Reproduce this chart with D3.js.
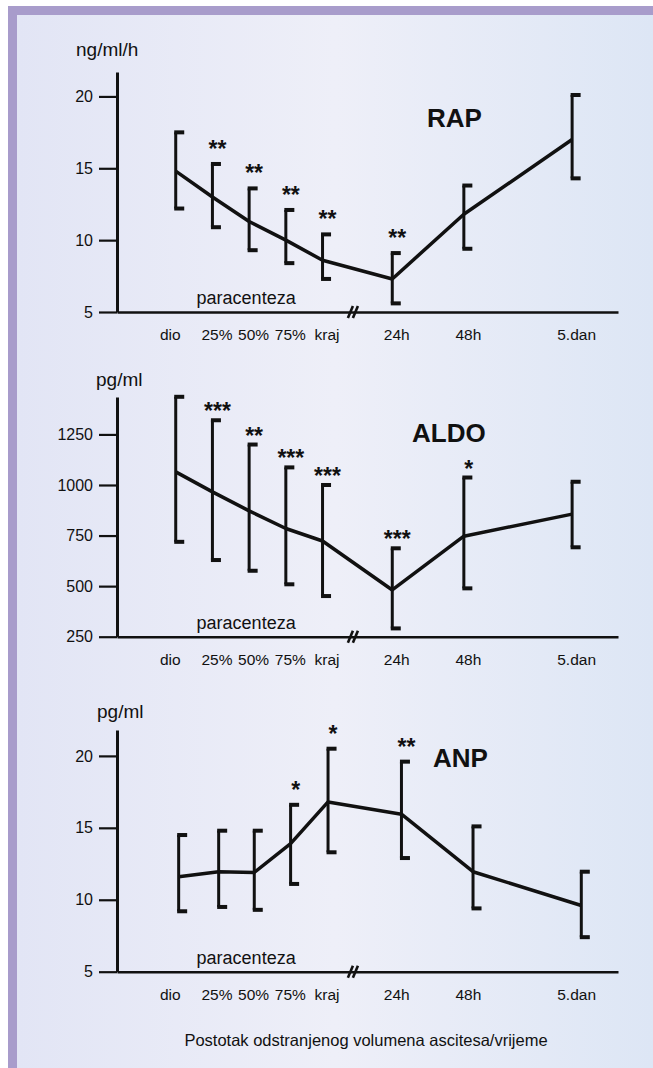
<!DOCTYPE html>
<html>
<head>
<meta charset="utf-8">
<script src="https://cdn.jsdelivr.net/npm/d3@7"></script>
<style>
  html, body { margin: 0; padding: 0; background: #fff; overflow: hidden; }
  svg { display: block; }
  svg text { font-family: "Liberation Sans", Arial, Helvetica, sans-serif; fill: #111; }
</style>
</head>
<body>
<script>
// categories along the (broken) x axis
const categories = ["dio", "25%", "50%", "75%", "kraj", "24h", "48h", "5.dan"];
const xSlots = [0, 1, 2, 3, 4, 5.9, 7.85, 10.8];
const anpSlots = [0.08, 1.17, 2.14, 3.13, 4.15, 6.15, 8.1, 11.05];
const breakSlot = 4.8;

// RAP (ng/ml/h)
const rapTicks = [5, 10, 15, 20];
const rapMean = [14.8, 13.0, 11.3, 10.0, 8.6, 7.3, 11.8, 17.0];
const rapUpper = [17.5, 15.3, 13.6, 12.1, 10.4, 9.1, 13.8, 20.1];
const rapLower = [12.2, 10.9, 9.3, 8.4, 7.3, 5.6, 9.4, 14.3];
const rapStars = ["", "**", "**", "**", "**", "**", "", ""];

// ALDO (pg/ml)
const aldoTicks = [250, 500, 750, 1000, 1250];
const aldoMean = [1065, 966, 872, 785, 723, 481, 747, 856];
const aldoUpper = [1436, 1320, 1200, 1087, 1000, 687, 1037, 1016];
const aldoLower = [719, 629, 576, 509, 451, 291, 489, 692];
const aldoStars = ["", "***", "**", "***", "***", "***", "*", ""];

// ANP (pg/ml)
const anpTicks = [5, 10, 15, 20];
const anpMean = [11.6, 11.95, 11.9, 13.9, 16.8, 15.95, 11.95, 9.6];
const anpUpper = [14.5, 14.8, 14.8, 16.6, 20.5, 19.6, 15.1, 11.95];
const anpLower = [9.2, 9.5, 9.3, 11.1, 13.3, 12.9, 9.4, 7.4];
const anpStars = ["", "", "", "*", "*", "**", "", ""];

const width = 653, height = 1068;

const svg = d3.select("body").append("svg")
    .attr("width", width)
    .attr("height", height);

// background + purple frame
const grad = svg.append("defs").append("linearGradient")
    .attr("id", "bg").attr("gradientUnits", "userSpaceOnUse")
    .attr("x1", 17).attr("x2", width).attr("y1", 0).attr("y2", 0);
grad.append("stop").attr("offset", "0").attr("stop-color", "#e2e5f5");
grad.append("stop").attr("offset", "0.5").attr("stop-color", "#eeeff8");
grad.append("stop").attr("offset", "1").attr("stop-color", "#dde6f5");

svg.append("rect").attr("x", 8).attr("y", 6).attr("width", width).attr("height", height)
    .attr("fill", "#a89ccb");
svg.append("rect").attr("x", 17).attr("y", 15).attr("width", width).attr("height", height)
    .attr("fill", "url(#bg)");

const xScale = d3.scaleLinear().domain([-1.6, 12.05]).range([117, 618]);

const panels = [
    {name: "RAP", unit: "ng/ml/h", unitX: 76, unitY: 56, ticks: rapTicks,
     domain: [5, 21.7], range: [312, 72], slots: xSlots,
     mean: rapMean, upper: rapUpper, lower: rapLower, stars: rapStars, starOff: 19,
     titleX: 427, titleY: 127},
    {name: "ALDO", unit: "pg/ml", unitX: 96, unitY: 386, ticks: aldoTicks,
     domain: [250, 1435], range: [636.7, 397], slots: xSlots,
     mean: aldoMean, upper: aldoUpper, lower: aldoLower, stars: aldoStars, starOff: 13,
     titleX: 412, titleY: 442},
    {name: "ANP", unit: "pg/ml", unitX: 97, unitY: 718, ticks: anpTicks,
     domain: [5, 21.8], range: [971.7, 730], slots: anpSlots,
     mean: anpMean, upper: anpUpper, lower: anpLower, stars: anpStars, starOff: 19,
     titleX: 433, titleY: 767}
];

panels.forEach(p => {
    const yScale = d3.scaleLinear().domain(p.domain).range(p.range);
    const g = svg.append("g");
    const x0 = xScale.range()[0];
    const yBase = p.range[0];

    // y axis
    const yAxis = d3.axisLeft(yScale).tickValues(p.ticks).tickFormat(d3.format("d"))
        .tickSize(18).tickSizeOuter(0).tickPadding(6);
    g.append("g")
        .attr("transform", `translate(${x0},0)`)
        .call(yAxis)
        .call(a => a.select(".domain").attr("stroke", "#111").attr("stroke-width", 3))
        .call(a => a.selectAll(".tick line").attr("stroke", "#111").attr("stroke-width", 2.2))
        .call(a => a.selectAll(".tick text")
            .style("font-size", "16px").style("font-family", null).attr("fill", "#111"));

    // x axis with category labels
    const xAxis = d3.axisBottom(xScale).tickValues(xSlots)
        .tickFormat((d, i) => categories[i]).tickSize(0).tickSizeOuter(0).tickPadding(17);
    g.append("g")
        .attr("transform", `translate(0,${yBase})`)
        .call(xAxis)
        .call(a => a.select(".domain").attr("stroke", "#111").attr("stroke-width", 2.5))
        .call(a => a.selectAll(".tick text")
            .attr("dx", (d, i) => i === 0 ? -6 : 4)
            .style("font-size", "15.5px").style("font-family", null).attr("fill", "#111"));

    // axis break mark
    const bx = xScale(breakSlot);
    [0, 5].forEach(o => {
        g.append("line")
            .attr("x1", bx - 4 + o).attr("y1", yBase + 6)
            .attr("x2", bx + 1 + o).attr("y2", yBase - 6)
            .attr("stroke", "#111").attr("stroke-width", 2.6);
    });

    // paracenteza label
    g.append("text")
        .attr("x", xScale(2) - 3).attr("y", yBase - 8)
        .attr("text-anchor", "middle")
        .style("font-size", "18px")
        .text("paracenteza");

    // unit label
    g.append("text")
        .attr("x", p.unitX).attr("y", p.unitY)
        .style("font-size", "19px")
        .text(p.unit);

    // title
    g.append("text")
        .attr("x", p.titleX).attr("y", p.titleY)
        .style("font-size", "26px").style("font-weight", "bold")
        .text(p.name);

    // error bars "["
    const bars = g.append("g");
    p.mean.forEach((m, i) => {
        const x = xScale(p.slots[i]);
        bars.append("line")
            .attr("x1", x).attr("x2", x)
            .attr("y1", yScale(p.lower[i])).attr("y2", yScale(p.upper[i]))
            .attr("stroke", "#111").attr("stroke-width", 3);
        [p.upper[i], p.lower[i]].forEach(v => {
            bars.append("rect")
                .attr("x", x - 1.5).attr("y", yScale(v) - 2)
                .attr("width", 10).attr("height", 4)
                .attr("fill", "#111");
        });
        if (p.stars[i]) {
            bars.append("text")
                .attr("x", x + 5).attr("y", yScale(p.upper[i]) - p.starOff + 12)
                .attr("text-anchor", "middle")
                .style("font-size", "23px").style("font-weight", "bold")
                .text(p.stars[i]);
        }
    });

    // mean line
    const line = d3.line()
        .x((d, i) => xScale(p.slots[i]))
        .y(d => yScale(d));
    g.append("path")
        .attr("d", line(p.mean))
        .attr("fill", "none")
        .attr("stroke", "#111")
        .attr("stroke-width", 3.5)
        .attr("stroke-linejoin", "round");
});

// common x caption
svg.append("text")
    .attr("x", 366).attr("y", 1046)
    .attr("text-anchor", "middle")
    .style("font-size", "16.5px")
    .text("Postotak odstranjenog volumena ascitesa/vrijeme");
</script>
</body>
</html>
